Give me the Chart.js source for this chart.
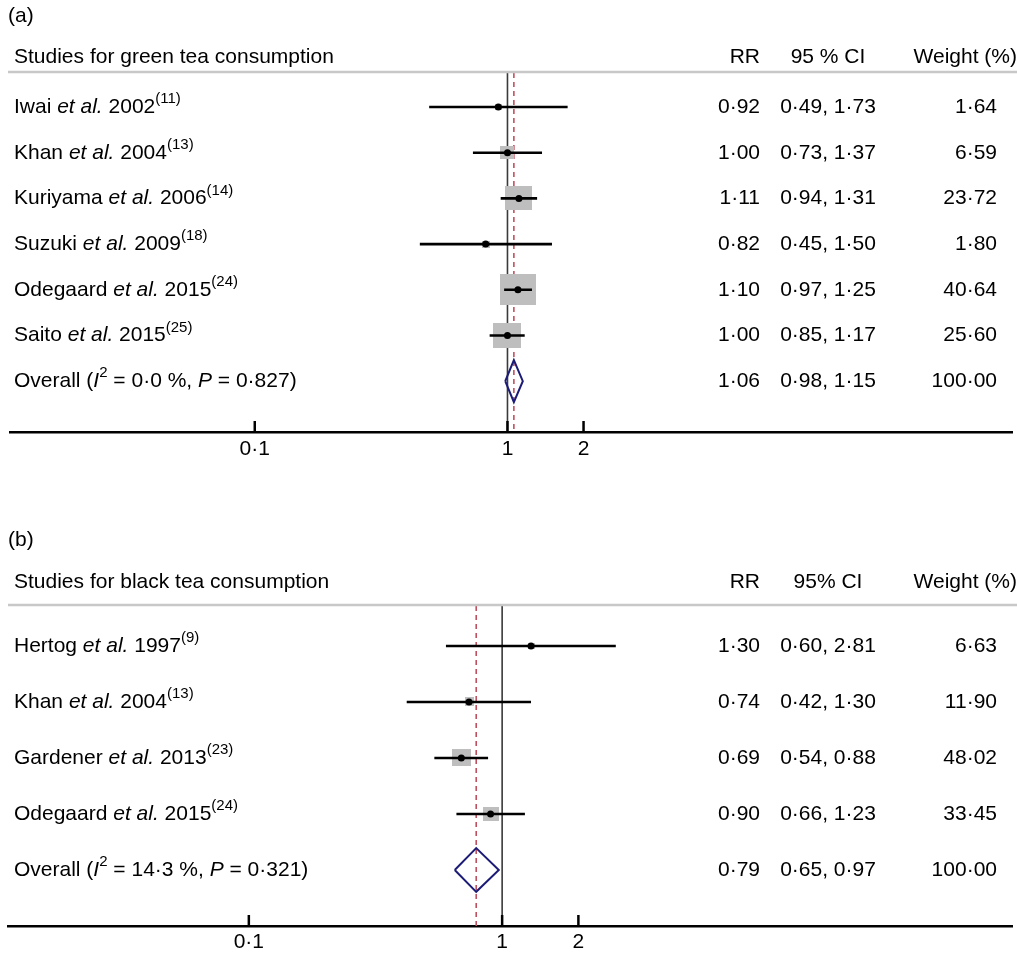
<!DOCTYPE html>
<html><head><meta charset="utf-8">
<script src="https://cdn.jsdelivr.net/npm/chart.js@4.4.1/dist/chart.umd.min.js"></script>
<style>
html,body{margin:0;padding:0;background:#fff;overflow:hidden;width:1017px;height:956px}
.p{position:absolute;left:0;width:1017px;height:478px}
</style>
</head><body>
<div class="p" style="top:0"><canvas id="ca" width="1017" height="478"></canvas></div>
<div class="p" style="top:478px"><canvas id="cb" width="1017" height="478"></canvas></div>
<script>
// ---- shared axis ticks ----
const tickValues = [0.1, 1, 2];
const tickLabels = ['0·1', '1', '2'];

// ---- panel (a): green tea ----
const studiesA = ['Iwai', 'Khan', 'Kuriyama', 'Suzuki', 'Odegaard', 'Saito'];
const yearsA = [2002, 2004, 2006, 2009, 2015, 2015];
const refsA = [11, 13, 14, 18, 24, 25];
const rrA = [0.92, 1.00, 1.11, 0.82, 1.10, 1.00];
const loA = [0.49, 0.73, 0.94, 0.45, 0.97, 0.85];
const hiA = [1.73, 1.37, 1.31, 1.50, 1.25, 1.17];
const weightA = [1.64, 6.59, 23.72, 1.80, 40.64, 25.60];
const overallA = [1.06, 0.98, 1.15];
const hetA = ['0·0 %', '0·827'];

// ---- panel (b): black tea ----
const studiesB = ['Hertog', 'Khan', 'Gardener', 'Odegaard'];
const yearsB = [1997, 2004, 2013, 2015];
const refsB = [9, 13, 23, 24];
const rrB = [1.30, 0.74, 0.69, 0.90];
const loB = [0.60, 0.42, 0.54, 0.66];
const hiB = [2.81, 1.30, 0.88, 1.23];
const weightB = [6.63, 11.90, 48.02, 33.45];
const overallB = [0.79, 0.65, 0.97];
const hetB = ['14·3 %', '0·321'];

const FONT = '"Liberation Sans", Arial, Helvetica, sans-serif';
const FS = 21;
const fmt = v => v.toFixed(2).replace('.', '·');

function boxImg(w, h) {
  const c = document.createElement('canvas');
  c.width = Math.max(1, Math.round(w));
  c.height = Math.max(1, Math.round(h));
  const g = c.getContext('2d');
  g.fillStyle = '#bebebe';
  g.fillRect(0, 0, c.width, c.height);
  return c;
}

function drawRich(ctx, x, y, segs) {
  let cx = x;
  for (const s of segs) {
    if (s.sup) {
      ctx.font = '15px ' + FONT;
      ctx.fillText(s.t, cx, y - 8);
    } else {
      ctx.font = (s.i ? 'italic ' : '') + FS + 'px ' + FONT;
      ctx.fillText(s.t, cx, y);
    }
    cx += ctx.measureText(s.t).width;
  }
}

function makePanel(id, p) {
  const n = p.studies.length;
  const rows = p.studies.map((_, i) => i);
  const ov = n;
  const ciData = [];
  rows.forEach(i => {
    ciData.push({x: p.lo[i], y: i}, {x: p.hi[i], y: i}, {x: p.hi[i], y: null});
  });
  const boxes = rows.map(i => boxImg(p.boxW * Math.sqrt(p.w[i]), p.boxH * Math.sqrt(p.w[i])));
  const dh = p.diamondH;
  const diamond = [
    {x: p.overall[1], y: ov}, {x: p.overall[0], y: ov - dh},
    {x: p.overall[2], y: ov}, {x: p.overall[0], y: ov + dh},
    {x: p.overall[1], y: ov}
  ];

  const textPlugin = {
    id: 'txt',
    afterDraw(chart) {
      const ctx = chart.ctx, ca = chart.chartArea;
      const ys = chart.scales.y, xs = chart.scales.x;
      ctx.save();
      ctx.fillStyle = '#000';
      ctx.textBaseline = 'middle';
      ctx.textAlign = 'left';
      ctx.font = FS + 'px ' + FONT;
      ctx.fillText(p.letter, 8, p.letterY);
      const hy = ca.top - p.headOff;
      ctx.fillText(p.title, 14, hy);
      ctx.textAlign = 'right';
      ctx.fillText('RR', 760, hy);
      ctx.fillText('Weight (%)', 1017, hy);
      ctx.textAlign = 'center';
      ctx.fillText(p.ciHead, 828, hy);
      ctx.strokeStyle = '#c8c8c8';
      ctx.lineWidth = 2.5;
      ctx.beginPath();
      ctx.moveTo(8, ca.top - 1);
      ctx.lineTo(1017, ca.top - 1);
      ctx.stroke();
      const allRR = p.rr.concat([p.overall[0]]);
      const allLo = p.lo.concat([p.overall[1]]);
      const allHi = p.hi.concat([p.overall[2]]);
      const allW = p.w.concat([100]);
      for (let i = 0; i <= n; i++) {
        const y = ys.getPixelForValue(i);
        ctx.textAlign = 'left';
        if (i < n) {
          drawRich(ctx, 14, y, [
            {t: p.studies[i] + ' '}, {t: 'et al.', i: true},
            {t: ' ' + p.years[i]}, {t: '(' + p.refs[i] + ')', sup: true}
          ]);
        } else {
          drawRich(ctx, 14, y, [
            {t: 'Overall ('}, {t: 'I', i: true}, {t: '2', sup: true},
            {t: ' = ' + p.het[0] + ', '}, {t: 'P', i: true},
            {t: ' = ' + p.het[1] + ')'}
          ]);
        }
        ctx.font = FS + 'px ' + FONT;
        ctx.textAlign = 'right';
        ctx.fillText(fmt(allRR[i]), 760, y);
        ctx.fillText(fmt(allW[i]), 997, y);
        ctx.textAlign = 'center';
        ctx.fillText(fmt(allLo[i]) + ', ' + fmt(allHi[i]), 828, y);
      }
      ctx.strokeStyle = '#000';
      ctx.lineWidth = 2.5;
      tickValues.forEach(v => {
        const x = xs.getPixelForValue(v);
        ctx.beginPath();
        ctx.moveTo(x, ca.bottom);
        ctx.lineTo(x, ca.bottom - 11);
        ctx.stroke();
      });
      ctx.restore();
    }
  };

  return new Chart(document.getElementById(id), {
    type: 'scatter',
    data: {
      datasets: [
        {
          data: [{x: 1, y: p.yMin}, {x: 1, y: p.yMax}],
          showLine: true, borderColor: '#3a3a3a', borderWidth: 1.6,
          pointRadius: 0, order: 10
        },
        {
          data: [{x: p.overall[0], y: p.yMin}, {x: p.overall[0], y: p.yMax}],
          showLine: true, borderColor: '#c0505f', borderWidth: 1.6,
          borderDash: [5, 4], pointRadius: 0, order: 9
        },
        {
          data: rows.map(i => ({x: p.rr[i], y: i})),
          pointStyle: boxes, pointRadius: 1, order: 5
        },
        {
          data: ciData, showLine: true, spanGaps: false,
          borderColor: '#000', borderWidth: 2.6, pointRadius: 0, order: 3
        },
        {
          data: diamond, showLine: true, borderColor: '#1c1c78',
          borderWidth: 2, pointRadius: 0, fill: false, order: 2
        },
        {
          data: rows.map(i => ({x: p.rr[i], y: i})),
          pointStyle: 'circle', pointRadius: 3.5,
          backgroundColor: '#000', borderColor: '#000', borderWidth: 0, order: 1
        }
      ]
    },
    options: {
      responsive: false,
      animation: false,
      events: [],
      layout: {padding: {left: p.padLeft, right: 0, top: p.padTop, bottom: 0}},
      plugins: {legend: {display: false}, tooltip: {enabled: false}},
      scales: {
        x: {
          type: 'logarithmic', min: p.xMin, max: p.xMax,
          afterBuildTicks: ax => { ax.ticks = tickValues.map(v => ({value: v})); },
          afterFit: ax => { ax.height = p.axisH; },
          grid: {display: false, drawTicks: false},
          border: {display: true, color: '#000', width: 2.5},
          ticks: {
            autoSkip: false, maxRotation: 0, padding: p.tickPad, color: '#000',
            font: {family: FONT, size: FS},
            callback: (v, i) => tickLabels[i]
          }
        },
        y: {
          type: 'linear', reverse: true, min: p.yMin, max: p.yMax, display: false
        }
      }
    },
    plugins: [textPlugin]
  });
}

makePanel('ca', {
  letter: '(a)', letterY: 16, title: 'Studies for green tea consumption', ciHead: '95 % CI',
  studies: studiesA, years: yearsA, refs: refsA, rr: rrA, lo: loA, hi: hiA, w: weightA,
  overall: overallA, het: hetA,
  boxW: 5.6, boxH: 4.9, diamondH: 0.46,
  padLeft: 10, padTop: 73, axisH: 46, tickPad: 5, headOff: 16,
  xMin: 0.01075, xMax: 99.2, yMin: -0.744, yMax: 7.111
});

makePanel('cb', {
  letter: '(b)', letterY: 62, title: 'Studies for black tea consumption', ciHead: '95% CI',
  studies: studiesB, years: yearsB, refs: refsB, rr: rrB, lo: loB, hi: hiB, w: weightB,
  overall: overallB, het: hetB,
  boxW: 2.75, boxH: 2.5, diamondH: 0.39,
  padLeft: 8, padTop: 128, axisH: 30, tickPad: 4, headOff: 24,
  xMin: 0.0112, xMax: 103, yMin: -0.714, yMax: 5.0
});
</script>
</body></html>
